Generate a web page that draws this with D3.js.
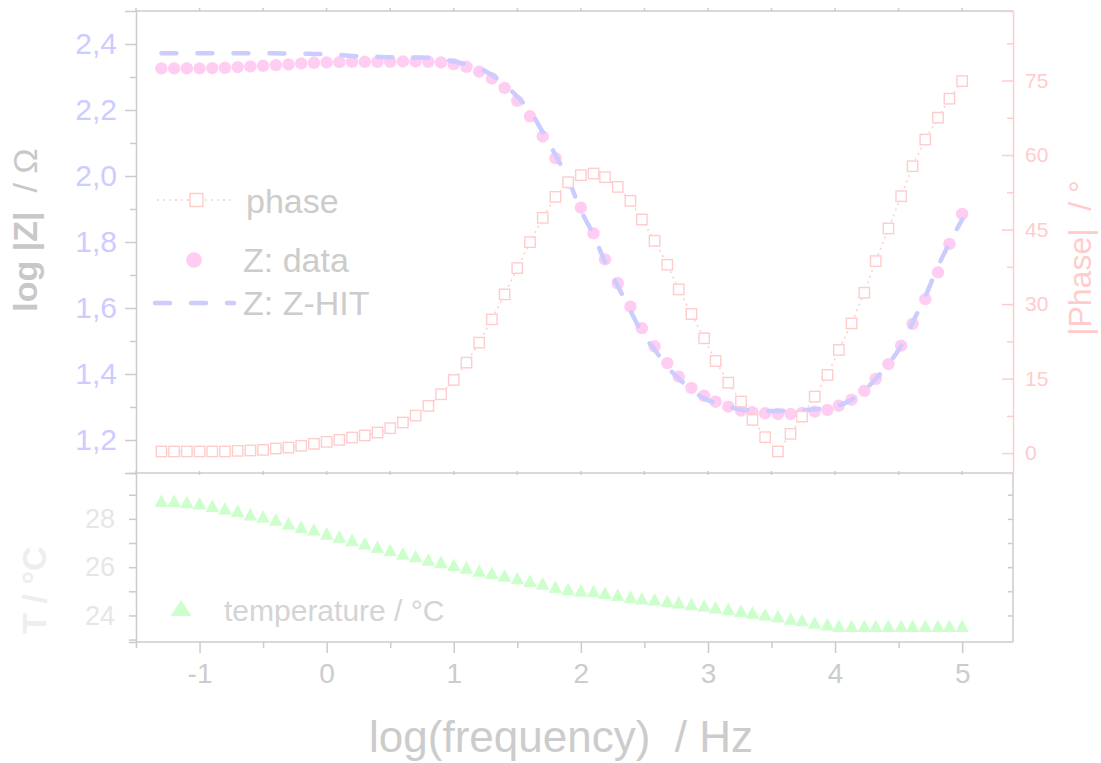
<!DOCTYPE html>
<html><head><meta charset="utf-8">
<script src="https://cdn.jsdelivr.net/npm/d3@7"></script>
<style>
body{margin:0;background:#fff}
svg{display:block}
text{font-family:"Liberation Sans",Arial,Helvetica,sans-serif}
</style>
</head><body>
<svg id="chart" width="1101" height="763"></svg>
<script>
// ---------- data ----------
const logFreq = [-1.3,-1.2,-1.1,-1.0,-0.9,-0.8,-0.7,-0.6,-0.5,-0.4,-0.3,-0.2,-0.1,0.0,0.1,0.2,0.3,
  0.4,0.5,0.6,0.7,0.8,0.9,1.0,1.1,1.2,1.3,1.4,1.5,1.6,1.7,1.8,1.9,2.0,
  2.10,2.19,2.29,2.39,2.48,2.58,2.68,2.77,2.87,2.97,3.06,3.16,3.26,3.35,3.45,3.55,3.65,
  3.74,3.84,3.94,4.03,4.13,4.23,4.32,4.42,4.52,4.61,4.71,4.81,4.90,5.00];
const logZData = [2.326,2.326,2.326,2.326,2.327,2.328,2.330,2.332,2.334,2.336,2.338,2.341,2.343,2.344,2.345,2.346,2.346,
  2.346,2.346,2.347,2.347,2.346,2.344,2.339,2.331,2.316,2.296,2.267,2.228,2.181,2.120,2.054,1.980,1.904,
  1.826,1.747,1.675,1.604,1.539,1.484,1.433,1.392,1.358,1.334,1.316,1.301,1.289,1.284,1.281,1.279,1.279,
  1.282,1.286,1.291,1.304,1.322,1.349,1.385,1.430,1.486,1.552,1.627,1.708,1.794,1.885];
const logZHit = [2.372,2.372,2.372,2.372,2.372,2.372,2.372,2.372,2.372,2.372,2.371,2.371,2.370,2.369,2.367,2.364,2.362,
  2.361,2.360,2.360,2.359,2.358,2.355,2.347,2.338,2.327,2.306,2.278,2.240,2.197,2.133,2.064,1.990,1.896,
  1.821,1.740,1.667,1.592,1.525,1.474,1.422,1.386,1.353,1.326,1.312,1.302,1.292,1.290,1.288,1.288,1.289,
  1.290,1.293,1.297,1.305,1.322,1.350,1.385,1.430,1.486,1.556,1.635,1.726,1.797,1.868];
const phaseAbs = [0.33,0.33,0.33,0.33,0.33,0.33,0.46,0.53,0.66,0.93,1.13,1.47,1.87,2.27,2.67,3.14,3.55,
  4.15,5.02,6.16,7.56,9.51,11.85,14.73,18.22,22.24,26.93,31.95,37.25,42.47,47.36,51.58,54.53,55.94,
  56.28,55.54,53.59,50.78,47.03,42.74,37.92,32.96,28.00,23.11,18.55,14.20,10.38,6.69,3.21,0.33,3.88,
  7.36,11.38,15.74,20.76,26.12,32.29,38.65,45.22,51.72,57.75,63.11,67.53,71.35,74.90];
const temperature = [28.75,28.75,28.70,28.65,28.55,28.44,28.34,28.19,28.10,27.98,27.82,27.68,27.57,27.40,27.27,27.13,26.99,
  26.85,26.71,26.57,26.46,26.32,26.22,26.10,25.99,25.86,25.77,25.66,25.55,25.44,25.33,25.19,25.10,25.04,
  25.01,24.94,24.86,24.78,24.71,24.67,24.60,24.55,24.48,24.41,24.34,24.27,24.20,24.12,24.05,23.98,23.88,
  23.81,23.71,23.64,23.57,23.57,23.57,23.57,23.57,23.57,23.57,23.57,23.57,23.57,23.57];

const xTickValues = [-1,0,1,2,3,4,5];
const xMinorTicks = [-1.5,-0.5,0.5,1.5,2.5,3.5,4.5];
const zTickValues = [1.2,1.4,1.6,1.8,2.0,2.2,2.4];
const zMinorTicks = [1.1,1.3,1.5,1.7,1.9,2.1,2.3,2.5];
const phaseTickValues = [0,15,30,45,60,75];
const phaseMinorTicks = [-7.5,7.5,22.5,37.5,52.5,67.5,82.5];
const tTickValues = [24,26,28];
const tMinorTicks = [23,25,27,29];

const legendTop = ["phase","Z: data","Z: Z-HIT"];
const legendBottom = "temperature / °C";

// ---------- layout ----------
const L = 136, R = 1013, T1 = 11, B1 = 473, B2 = 642;
const cGray = "#cccccc", cZ = "#ccccff", cPink = "#ffcccc", cDot = "#ffccf2", cGreen = "#ccffcc";

const svg = d3.select("#chart");
const x = d3.scaleLinear().domain([-1.5, 5.4]).range([L, R]);
const yZ = d3.scaleLinear().domain([1.1, 2.5]).range([B1, T1]);
const yP = d3.scaleLinear().domain([-4, 89]).range([B1, T1]);
const yT = d3.scaleLinear().domain([22.9, 29.9]).range([B2, B1]);

const zRows = logFreq.map((f,i)=>({f, z:logZData[i], h:logZHit[i], p:phaseAbs[i], t:temperature[i]}));

// frame lines
const frame = svg.append("g").attr("stroke-width",1.5).attr("fill","none");
frame.append("line").attr("x1",L).attr("x2",R).attr("y1",T1).attr("y2",T1).attr("stroke",cGray);
frame.append("line").attr("x1",L).attr("x2",R).attr("y1",B1).attr("y2",B1).attr("stroke",cGray);
frame.append("line").attr("x1",L).attr("x2",R).attr("y1",B2).attr("y2",B2).attr("stroke",cGray);
frame.append("line").attr("x1",R).attr("x2",R).attr("y1",B1).attr("y2",B2).attr("stroke",cGray);

// small ticks on top border and separator
svg.append("g").selectAll("line").data(xTickValues.concat(xMinorTicks)).join("line")
  .attr("x1",d=>x(d)).attr("x2",d=>x(d)).attr("y1",T1-3).attr("y2",T1)
  .attr("stroke",cGray).attr("stroke-width",1.5);
svg.append("g").selectAll("line").data(xTickValues.concat(xMinorTicks)).join("line")
  .attr("x1",d=>x(d)).attr("x2",d=>x(d)).attr("y1",B1-2).attr("y2",B1+2)
  .attr("stroke",cGray).attr("stroke-width",1.5);

// bottom x axis
const gx = svg.append("g").attr("transform",`translate(0,${B2})`)
  .call(d3.axisBottom(x).tickValues(xTickValues).tickSize(11).tickPadding(10).tickFormat(d=>String(d)));
gx.select(".domain").remove();
gx.selectAll(".tick line").attr("stroke",cGray).attr("stroke-width",1.5);
gx.selectAll(".tick text").attr("fill",cGray).attr("font-size",28).attr("font-family",null);
svg.append("g").attr("transform",`translate(0,${B2})`)
  .call(d3.axisBottom(x).tickValues(xMinorTicks).tickSize(6).tickFormat(""))
  .call(g=>g.select(".domain").remove())
  .selectAll(".tick line").attr("stroke",cGray).attr("stroke-width",1.5);

svg.append("text").attr("x",561).attr("y",752).attr("text-anchor","middle")
  .attr("font-size",44).attr("fill",cGray).attr("xml:space","preserve").text("log(frequency)  / Hz");

// left Z axis
const gz = svg.append("g").attr("transform",`translate(${L},0)`)
  .call(d3.axisLeft(yZ).tickValues(zTickValues).tickSize(11).tickPadding(8).tickFormat(d=>d3.format(".1f")(d).replace(".",",")));
gz.select(".domain").attr("stroke",cGray).attr("stroke-width",1.5);
gz.selectAll(".tick line").attr("stroke",cGray).attr("stroke-width",1.5);
gz.selectAll(".tick text").attr("fill",cZ).attr("font-size",30).attr("font-family",null);
svg.append("g").attr("transform",`translate(${L},0)`)
  .call(d3.axisLeft(yZ).tickValues(zMinorTicks.filter(v=>v<2.5&&v>1.1)).tickSize(6).tickFormat(""))
  .call(g=>g.select(".domain").remove())
  .selectAll(".tick line").attr("stroke",cGray).attr("stroke-width",1.5);

const zTitle = svg.append("text").attr("transform","translate(37,230) rotate(-90)")
  .attr("text-anchor","middle").attr("font-size",34).attr("fill","#c8c8c8").attr("xml:space","preserve");
zTitle.append("tspan").attr("font-weight","bold").text("log |Z|");
zTitle.append("tspan").text("  / Ω");

// right phase axis (ticks inward)
const gp = svg.append("g").attr("transform",`translate(${R},0)`)
  .call(d3.axisRight(yP).tickValues(phaseTickValues).tickSize(-11).tickPadding(13));
gp.select(".domain").attr("stroke",cPink).attr("stroke-width",1.5);
gp.selectAll(".tick line").attr("stroke",cPink).attr("stroke-width",1.5);
gp.selectAll(".tick text").attr("fill",cPink).attr("font-size",21).attr("font-family",null).attr("x",12);
svg.append("g").attr("transform",`translate(${R},0)`)
  .call(d3.axisRight(yP).tickValues(phaseMinorTicks.filter(v=>v>-4&&v<89)).tickSize(-6).tickFormat(""))
  .call(g=>g.select(".domain").remove())
  .selectAll(".tick line").attr("stroke",cPink).attr("stroke-width",1.5);

svg.append("text").attr("transform","translate(1091,258) rotate(-90)")
  .attr("text-anchor","middle").attr("font-size",32).attr("fill",cPink).attr("xml:space","preserve")
  .text("|Phase|  / °");

// bottom panel left T axis
const gt = svg.append("g").attr("transform",`translate(${L},0)`)
  .call(d3.axisLeft(yT).tickValues(tTickValues).tickSize(7).tickPadding(14).tickFormat(d=>String(d)));
gt.select(".domain").attr("stroke",cGray).attr("stroke-width",1.5);
gt.selectAll(".tick line").attr("stroke",cGray).attr("stroke-width",1.5);
gt.selectAll(".tick text").attr("fill","#e6e6e6").attr("font-size",27).attr("font-family",null);
svg.append("g").attr("transform",`translate(${L},0)`)
  .call(d3.axisLeft(yT).tickValues(tMinorTicks).tickSize(7).tickFormat(""))
  .call(g=>g.select(".domain").remove())
  .selectAll(".tick line").attr("stroke",cGray).attr("stroke-width",1.5);
svg.append("g").attr("transform",`translate(${R},0)`)
  .call(d3.axisRight(yT).tickValues(tTickValues.concat(tMinorTicks).filter(v=>v>23)).tickSize(-5).tickFormat(""))
  .call(g=>g.select(".domain").remove())
  .selectAll(".tick line").attr("stroke",cGray).attr("stroke-width",1.5);

svg.append("text").attr("transform","translate(46,590) rotate(-90)")
  .attr("text-anchor","middle").attr("font-size",34).attr("font-weight","bold").attr("fill","#eeeeee")
  .attr("xml:space","preserve").text("T / °C");

// ---------- marks ----------
const plot = svg.append("g");
plot.append("g").selectAll("circle").data(zRows).join("circle")
  .attr("cx",d=>x(d.f)).attr("cy",d=>yZ(d.z)).attr("r",6.2).attr("fill",cDot);
plot.append("path").datum(zRows)
  .attr("d",d3.line().x(d=>x(d.f)).y(d=>yZ(d.h)).curve(d3.curveMonotoneX))
  .attr("fill","none").attr("stroke",cZ).attr("stroke-width",4.5)
  .attr("stroke-linecap","round").attr("stroke-dasharray","15,21");
plot.append("path").datum(zRows)
  .attr("d",d3.line().x(d=>x(d.f)).y(d=>yP(d.p)))
  .attr("fill","none").attr("stroke",cPink).attr("stroke-width",1.5).attr("stroke-dasharray","2,4");
plot.append("g").selectAll("rect").data(zRows).join("rect")
  .attr("x",d=>x(d.f)-5.2).attr("y",d=>yP(d.p)-5.2).attr("width",10.4).attr("height",10.4)
  .attr("fill","#fff").attr("stroke",cPink).attr("stroke-width",1.4);
plot.append("g").selectAll("path").data(zRows).join("path")
  .attr("transform",d=>`translate(${x(d.f)},${yT(d.t)})`)
  .attr("d","M0,-6.3L6.8,6.3L-6.8,6.3Z").attr("fill",cGreen);

// ---------- legends ----------
const lg = svg.append("g");
lg.append("line").attr("x1",157).attr("x2",231).attr("y1",200).attr("y2",200)
  .attr("stroke",cPink).attr("stroke-width",1.5).attr("stroke-dasharray","2,4");
lg.append("rect").attr("x",190).attr("y",193.5).attr("width",13).attr("height",13)
  .attr("fill","#fff").attr("stroke",cPink).attr("stroke-width",1.5);
lg.append("circle").attr("cx",194).attr("cy",260).attr("r",7.8).attr("fill",cDot);
lg.append("line").attr("x1",155).attr("x2",234).attr("y1",303).attr("y2",303)
  .attr("stroke",cZ).attr("stroke-width",4.5).attr("stroke-linecap","round").attr("stroke-dasharray","15,21");
const ltx = [246, 243, 243], lty = [213, 272, 315];
legendTop.forEach((s,i)=>{
  lg.append("text").attr("x",ltx[i]).attr("y",lty[i]).attr("font-size",34).attr("fill",cGray).text(s);
});
lg.append("path").attr("transform","translate(181,608)").attr("d","M0,-8L10.5,8L-10.5,8Z").attr("fill",cGreen);
lg.append("text").attr("x",224).attr("y",621).attr("font-size",30).attr("fill","#d4d4d4").text(legendBottom);
</script>
</body></html>
